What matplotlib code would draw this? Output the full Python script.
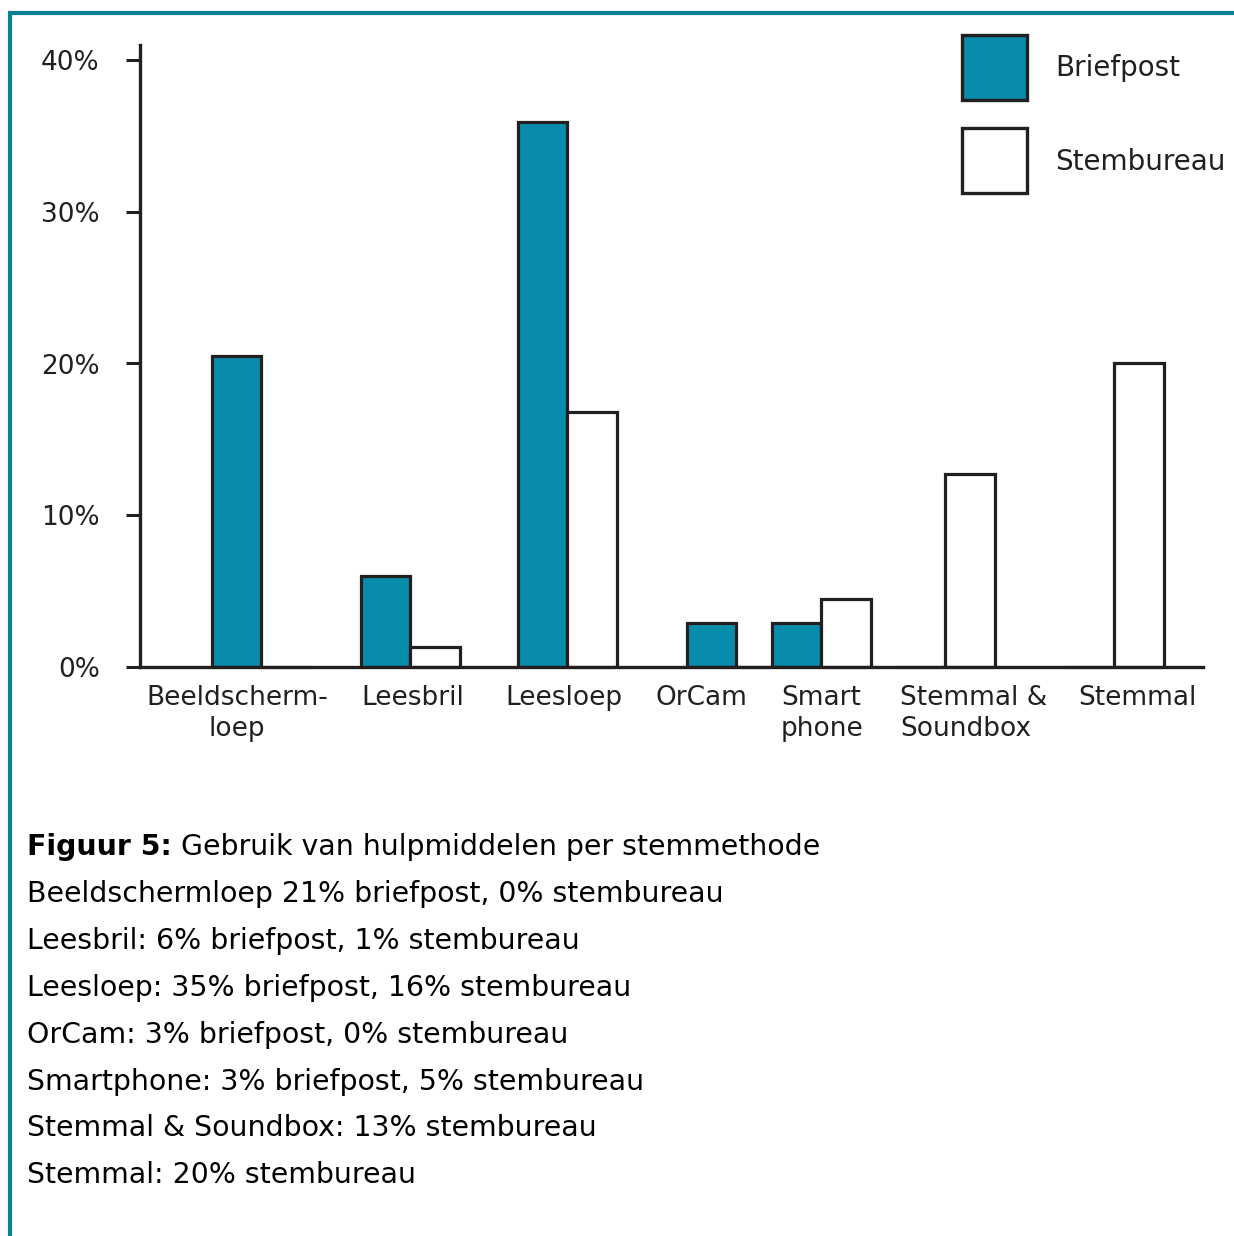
import matplotlib
matplotlib.use("Agg")
import matplotlib.pyplot as plt
from matplotlib.patches import Rectangle
from matplotlib.lines import Line2D

# ---- data ----
categories = ["Beeldscherm-\nloep", "Leesbril", "Leesloep", "OrCam", "Smart\nphone",
              "Stemmal &\nSoundbox", "Stemmal"]
briefpost = [20.5, 6.0, 35.9, 2.9, 2.9, 0.0, 0.0]
stembureau = [0.0, 1.3, 16.8, 0.0, 4.5, 12.7, 20.0]
series_names = ["Briefpost", "Stembureau"]
yticks = [0, 10, 20, 30, 40]
ytick_labels = ["0%", "10%", "20%", "30%", "40%"]
caption_title = "Figuur 5:"
caption_first = " Gebruik van hulpmiddelen per stemmethode"
caption_lines = [
    "Beeldschermloep 21% briefpost, 0% stembureau",
    "Leesbril: 6% briefpost, 1% stembureau",
    "Leesloep: 35% briefpost, 16% stembureau",
    "OrCam: 3% briefpost, 0% stembureau",
    "Smartphone: 3% briefpost, 5% stembureau",
    "Stemmal & Soundbox: 13% stembureau",
    "Stemmal: 20% stembureau",
]

# ---- layout (pixel-based) ----
W, H = 1234, 1236
DPI = 100
TEAL = "#088cac"
FRAME = "#0b8197"
DARK = "#231f20"
group_centers = [261, 410, 567, 736, 821, 945, 1114]
label_x = [237, 413, 564, 701, 781, 900, 1137]
label_ha = ["center", "center", "center", "center", "left", "left", "center"]
bar_w = 49.5

plt.rcParams["font.family"] = ["DejaVu Sans"]
fig = plt.figure(figsize=(W / DPI, H / DPI), dpi=DPI)

def fx(px):
    return px / W

def fy(py):
    return 1 - py / H

ax_left, ax_right, ax_top, ax_bot = 140, 1203, 45, 667
ax = fig.add_axes([fx(ax_left), fy(ax_bot), fx(ax_right - ax_left), (ax_bot - ax_top) / H])
ax.set_xlim(ax_left, ax_right)
ymax = (ax_bot - ax_top) / ((ax_bot - 60) / 40.0)
ax.set_ylim(0, ymax)

lw = 2.3
ax.bar([c - bar_w / 2 for c in group_centers], briefpost, width=bar_w,
       color=TEAL, edgecolor=DARK, linewidth=lw, zorder=2)
ax.bar([c + bar_w / 2 for c in group_centers], stembureau, width=bar_w,
       color="white", edgecolor=DARK, linewidth=lw, zorder=2)

for s in ["top", "right"]:
    ax.spines[s].set_visible(False)
for s in ["left", "bottom"]:
    ax.spines[s].set_linewidth(2.4)
    ax.spines[s].set_color(DARK)
    ax.spines[s].set_zorder(3)
ax.set_yticks(yticks)
ax.set_yticklabels(ytick_labels, fontsize=19, color=DARK)
ax.tick_params(axis="y", length=10, width=2.2, color=DARK, pad=19)
ax.set_xticks([])

for x, lab, ha in zip(label_x, categories, label_ha):
    ax.annotate(lab, xy=(x, 0), xytext=(0, -13), textcoords="offset points",
                ha=ha, va="top", fontsize=19, color=DARK, linespacing=1.25,
                multialignment=ha, annotation_clip=False)

# legend
lg_x0, lg_size = 962, 65
for i, (name, fc) in enumerate(zip(series_names, [TEAL, "white"])):
    top = [35, 128][i]
    fig.patches.append(Rectangle((fx(lg_x0), fy(top + lg_size)), lg_size / W, lg_size / H,
                                 transform=fig.transFigure, facecolor=fc, edgecolor=DARK,
                                 linewidth=2.4))
    fig.text(fx(1055), fy(top + lg_size / 2 + 1), name, ha="left", va="center",
             fontsize=20, color=DARK)

# frame lines
fig.add_artist(Line2D([fx(8), 1], [fy(13), fy(13)], transform=fig.transFigure,
                      color=FRAME, linewidth=3, solid_capstyle="butt"))
fig.add_artist(Line2D([fx(10), fx(10)], [fy(11), 0], transform=fig.transFigure,
                      color=FRAME, linewidth=3, solid_capstyle="butt"))

# caption
CAP_FS = 20.4
t = fig.text(fx(27), fy(847), caption_title, ha="left", va="center", fontsize=CAP_FS,
             fontweight="bold", color="black")
fig.canvas.draw()
bb = t.get_window_extent()
fig.text(bb.x1 / W, fy(847), caption_first, ha="left", va="center", fontsize=CAP_FS,
         color="black")
for i, line in enumerate(caption_lines):
    fig.text(fx(27), fy(894 + i * 46.9), line, ha="left", va="center",
             fontsize=CAP_FS, color="black")

fig.savefig("out.png", dpi=DPI)
